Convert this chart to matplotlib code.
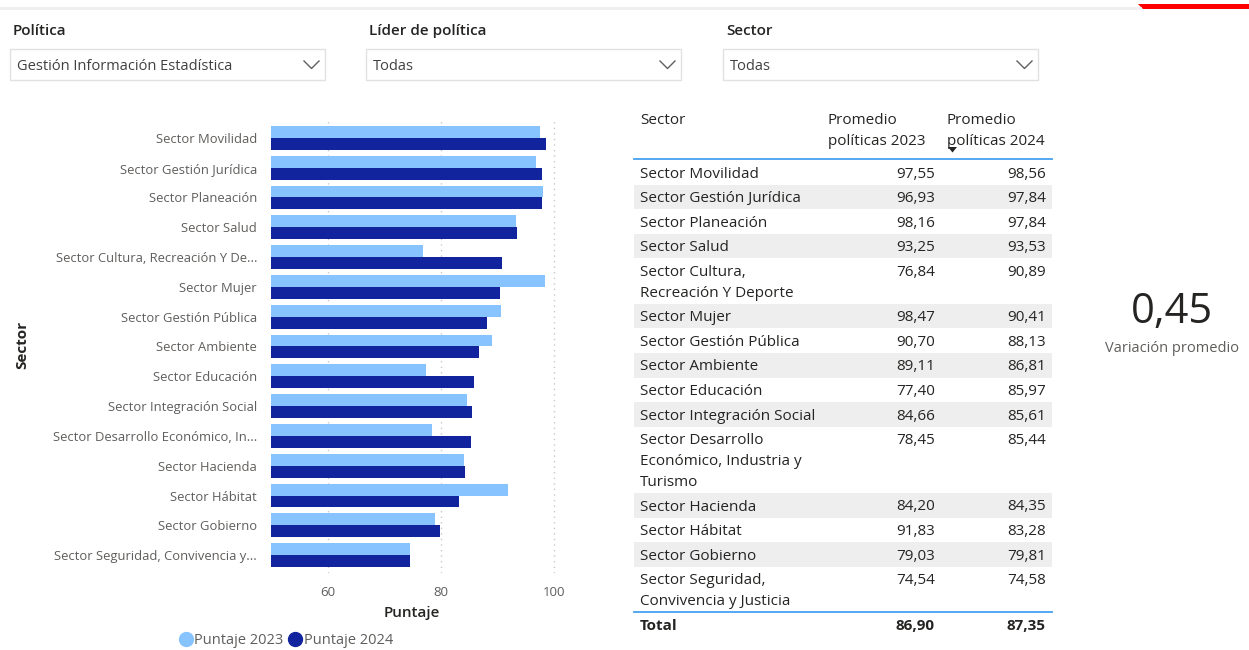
import numpy as np
import matplotlib.pyplot as plt
from matplotlib.patches import Rectangle, Polygon
from matplotlib.lines import Line2D

plt.rcParams['font.family'] = ['Open Sans', 'DejaVu Sans']

W, H = 1249, 650

# datos
sectores = ["Sector Movilidad", "Sector Gestión Jurídica", "Sector Planeación", "Sector Salud",
            "Sector Cultura, Recreación Y Deporte", "Sector Mujer", "Sector Gestión Pública",
            "Sector Ambiente", "Sector Educación", "Sector Integración Social",
            "Sector Desarrollo Económico, Industria y Turismo", "Sector Hacienda",
            "Sector Hábitat", "Sector Gobierno", "Sector Seguridad, Convivencia y Justicia"]
etiquetas_barras = ["Sector Movilidad", "Sector Gestión Jurídica", "Sector Planeación", "Sector Salud",
                    "Sector Cultura, Recreación Y De...", "Sector Mujer", "Sector Gestión Pública",
                    "Sector Ambiente", "Sector Educación", "Sector Integración Social",
                    "Sector Desarrollo Económico, In...", "Sector Hacienda",
                    "Sector Hábitat", "Sector Gobierno", "Sector Seguridad, Convivencia y..."]
etiquetas_tabla = ["Sector Movilidad", "Sector Gestión Jurídica", "Sector Planeación", "Sector Salud",
                   "Sector Cultura,\nRecreación Y Deporte", "Sector Mujer", "Sector Gestión Pública",
                   "Sector Ambiente", "Sector Educación", "Sector Integración Social",
                   "Sector Desarrollo\nEconómico, Industria y\nTurismo", "Sector Hacienda",
                   "Sector Hábitat", "Sector Gobierno", "Sector Seguridad,\nConvivencia y Justicia"]
puntaje_2023 = [97.55, 96.93, 98.16, 93.25, 76.84, 98.47, 90.70, 89.11, 77.40, 84.66, 78.45, 84.20, 91.83, 79.03, 74.54]
puntaje_2024 = [98.56, 97.84, 97.84, 93.53, 90.89, 90.41, 88.13, 86.81, 85.97, 85.61, 85.44, 84.35, 83.28, 79.81, 74.58]
total_2023 = 86.90
total_2024 = 87.35
variacion = 0.45
filtros = [("Política", "Gestión Información Estadística"), ("Líder de política", "Todas"), ("Sector", "Todas")]
xticks = [60, 80, 100]

c23 = '#86C3FF'
c24 = '#12239E'
oscuro = '#252423'
gris = '#605E5C'

def fmt(v):
    return f"{v:.2f}".replace('.', ',')

fig = plt.figure(figsize=(W/100, H/100), dpi=100)

# grafico de barras
ax = fig.add_axes([271/W, 1-573/H, 285/W, 453/H])
y = np.arange(len(sectores))
ax.barh(y - 0.2, puntaje_2023, height=0.4, color=c23, zorder=2)
ax.barh(y + 0.2, puntaje_2024, height=0.4, color=c24, zorder=2)
ax.set_xlim(50, 100.4)
ax.set_ylim(len(sectores) - 0.4, -0.6)
ax.set_yticks(y)
ax.set_yticklabels(etiquetas_barras, fontsize=9.4, color=gris)
ax.set_xticks(xticks)
ax.set_xticklabels([str(t) for t in xticks], fontsize=9.5, color=gris)
ax.tick_params(length=0, pad=10)
ax.tick_params(axis='x', pad=9)
for s in ax.spines.values():
    s.set_visible(False)
ax.xaxis.grid(True, linestyle=(0, (1, 3)), color='#C8C8C8', lw=1)
ax.set_axisbelow(True)

# capa en pixeles
ov = fig.add_axes([0, 0, 1, 1])
ov.set_xlim(0, W)
ov.set_ylim(H, 0)
ov.axis('off')

ov.text(412, 613, "Puntaje", ha='center', va='center', fontsize=11, color=oscuro, fontweight='semibold')
ov.text(22, 345, "Sector", ha='center', va='center', fontsize=11, color=oscuro, fontweight='bold', rotation=90)

handles = [Line2D([], [], marker='o', ls='', color=c23, markersize=10),
           Line2D([], [], marker='o', ls='', color=c24, markersize=10)]
fig.legend(handles, ["Puntaje 2023", "Puntaje 2024"], loc='center', bbox_to_anchor=(285/W, 1-641/H),
           ncol=2, frameon=False, fontsize=10.5, handletextpad=0.0, columnspacing=0.2,
           handlelength=1.2, labelcolor=gris)

# barra superior
ov.plot([0, 1140], [8, 8], color='#EFEFEF', lw=2)
ov.add_patch(Polygon([(1138, 4), (1249, 4), (1249, 9), (1143, 9)], closed=True, color='#FF0000', lw=0))

# filtros
for (titulo, valor), x0 in zip(filtros, [10, 366, 723]):
    ov.text(x0 + 3, 31, titulo, fontsize=11, color=oscuro, fontweight='semibold', va='center')
    ov.add_patch(Rectangle((x0, 49), 315, 31, fc='white', ec='#E1E1E1', lw=1))
    ov.text(x0 + 7, 66, valor, fontsize=10.5, color='#404040', va='center')
    xr = x0 + 315
    ov.plot([xr - 21, xr - 13.5, xr - 6], [61, 68.5, 61], color='#606060', lw=1)

# tabla
xl, xr = 634, 1052
xv1, xv2 = 935, 1046
ov.text(640, 124, "Sector", fontsize=11, color=oscuro, va='baseline')
ov.text(828, 124, "Promedio", fontsize=11, color=oscuro, va='baseline')
ov.text(828, 145, "políticas 2023", fontsize=11, color=oscuro, va='baseline')
ov.text(947, 124, "Promedio", fontsize=11, color=oscuro, va='baseline')
ov.text(947, 145, "políticas 2024", fontsize=11, color=oscuro, va='baseline')
ov.add_patch(Polygon([(948, 147), (957, 147), (952.5, 152.5)], closed=True, color=oscuro, lw=0))

top = 160
for i, (lab, v1, v2) in enumerate(zip(etiquetas_tabla, puntaje_2023, puntaje_2024)):
    lineas = lab.split('\n')
    h = 24.6 + 20.8 * (len(lineas) - 1)
    if i % 2 == 1:
        ov.add_patch(Rectangle((xl, top), xr - xl, h, fc='#EEEEEE', ec='none'))
    for k, ln in enumerate(lineas):
        ov.text(640, top + 17.5 + 20.8 * k, ln, fontsize=11, color=oscuro, va='baseline')
    ov.text(xv1, top + 17.5, fmt(v1), fontsize=11, color=oscuro, va='baseline', ha='right')
    ov.text(xv2, top + 17.5, fmt(v2), fontsize=11, color=oscuro, va='baseline', ha='right')
    top += h

ov.plot([xl, xr], [158.5, 158.5], color='#45A0F0', lw=1.3)
ov.plot([xl, xr], [top, top], color='#45A0F0', lw=1.3)
ov.text(640, top + 17.5, "Total", fontsize=11, color=oscuro, va='baseline', fontweight='bold')
ov.text(xv1, top + 17.5, fmt(total_2023), fontsize=11, color=oscuro, va='baseline', ha='right', fontweight='bold')
ov.text(xv2, top + 17.5, fmt(total_2024), fontsize=11, color=oscuro, va='baseline', ha='right', fontweight='bold')

# tarjeta
ov.text(1172, 312, fmt(variacion), fontsize=30, color=oscuro, ha='center', va='center')
ov.text(1172, 349, "Variación promedio", fontsize=10.5, color=gris, ha='center', va='center')

fig.savefig('out.png', dpi=100, facecolor='white')
